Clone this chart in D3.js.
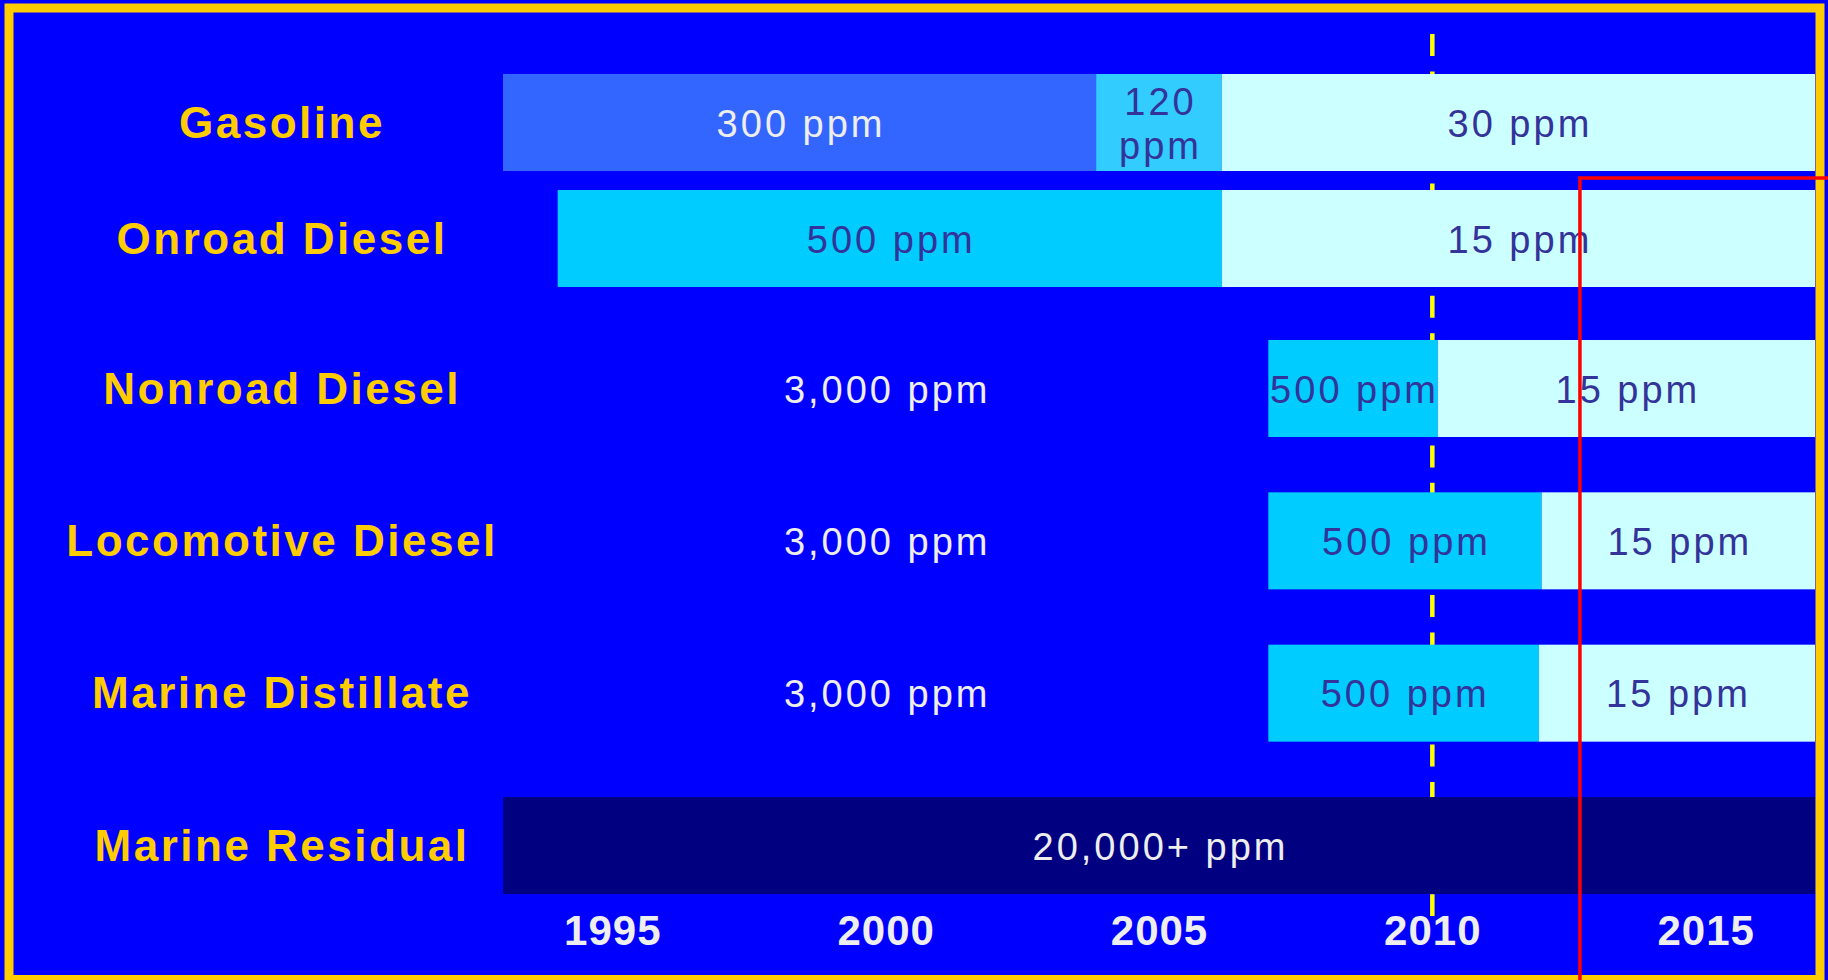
<!DOCTYPE html>
<html>
<head>
<meta charset="utf-8">
<script src="https://cdn.jsdelivr.net/npm/d3@7"></script>
<style>
  html, body { margin: 0; padding: 0; background: #0000FF; overflow: hidden; }
  svg { display: block; }
  text { font-family: "Liberation Sans", Arial, sans-serif; }
</style>
</head>
<body>
<svg id="chart" width="1828" height="980"></svg>
<script>
// Fuel categories, top to bottom
const categories = ["Gasoline", "Onroad Diesel", "Nonroad Diesel", "Locomotive Diesel", "Marine Distillate", "Marine Residual"];

// Year axis
const yearDomain = [1993, 2017];
const yearTicks = [1995, 2000, 2005, 2010, 2015];
const milestoneYear = 2010;

// Sulfur limit periods per fuel: [from year, to year, limit]
const gasolineLimits = [[1993, 2003.85, "300 ppm"], [2003.85, 2006.15, "120 ppm"], [2006.15, 2017, "30 ppm"]];
const onroadDieselLimits = [[1994, 2006.15, "500 ppm"], [2006.15, 2017, "15 ppm"]];
const nonroadDieselLimits = [[1993, 2007, "3,000 ppm"], [2007, 2010.1, "500 ppm"], [2010.1, 2017, "15 ppm"]];
const locomotiveDieselLimits = [[1993, 2007, "3,000 ppm"], [2007, 2012, "500 ppm"], [2012, 2017, "15 ppm"]];
const marineDistillateLimits = [[1993, 2007, "3,000 ppm"], [2007, 2011.95, "500 ppm"], [2011.95, 2017, "15 ppm"]];
const marineResidualLimits = [[1993, 2017, "20,000+ ppm"]];

// Limit levels and their colours
const limitLevels = ["20,000+ ppm", "3,000 ppm", "500 ppm", "300 ppm", "120 ppm", "30 ppm", "15 ppm"];
const levelFill = ["#000080", "#0000FF", "#00CCFF", "#3366FF", "#33CCFF", "#CCFFFF", "#CCFFFF"];
const levelInk = ["#EEEEEE", "#EEEEEE", "#333399", "#EEEEEE", "#333399", "#333399", "#333399"];

const limitsByFuel = [gasolineLimits, onroadDieselLimits, nonroadDieselLimits,
                      locomotiveDieselLimits, marineDistillateLimits, marineResidualLimits];

const W = 1828, H = 980;
const svg = d3.select("#chart");

const x = d3.scaleLinear().domain(yearDomain).range([503, 1815]);
// Row centres: the two on-road fuels sit closer together than the rest
const rowIndex = d3.scaleOrdinal().domain(categories).range(d3.range(categories.length));
const rowY = d3.scaleLinear().domain([0, 1, 2, 5]).range([122.5, 238.5, 388.5, 845.5]);
const y = c => rowY(rowIndex(c));
const barH = 97;

const fillOf = d3.scaleOrdinal().domain(limitLevels).range(levelFill);
const inkOf = d3.scaleOrdinal().domain(limitLevels).range(levelInk);

const segments = categories.flatMap((c, i) =>
  limitsByFuel[i].map(([from, to, level]) => ({ fuel: c, from, to, level })));

// 2010 milestone (dashed), drawn behind the bars
svg.append("line")
  .attr("x1", x(milestoneYear)).attr("x2", x(milestoneYear))
  .attr("y1", 34).attr("y2", 916)
  .attr("stroke", "#FFFF00")
  .attr("stroke-width", 4.5)
  .attr("stroke-dasharray", "22,15.4");

// Bars
svg.append("g").selectAll("rect")
  .data(segments)
  .join("rect")
  .attr("x", d => x(d.from))
  .attr("y", d => y(d.fuel) - barH / 2)
  .attr("width", d => x(d.to) - x(d.from))
  .attr("height", barH)
  .attr("fill", d => fillOf(d.level));

// Limit labels, wrapped onto two lines when the period is too narrow
const labelSize = 38;
const labels = svg.append("g").selectAll("text")
  .data(segments)
  .join("text")
  .attr("text-anchor", "middle")
  .attr("font-size", labelSize)
  .style("letter-spacing", "3px")
  .attr("fill", d => inkOf(d.level))
  .attr("x", d => (x(d.from) + x(d.to)) / 2 + 1.5)
  .attr("y", d => y(d.fuel) + 14)
  .text(d => d.level);

labels.each(function(d) {
  const t = d3.select(this);
  const w = this.getComputedTextLength();
  const avail = x(d.to) - x(d.from);
  if (w > avail * 1.15) {
    const words = d.level.split(" ");
    t.text(null);
    words.forEach((wd, k) => {
      t.append("tspan")
        .attr("x", (x(d.from) + x(d.to)) / 2 + 1.5)
        .attr("y", y(d.fuel) + 14 + (k - (words.length - 1) / 2) * 44)
        .text(wd);
    });
  }
});

// Fuel names
svg.append("g").selectAll("text")
  .data(categories)
  .join("text")
  .attr("x", 282)
  .attr("y", d => y(d) + 15)
  .attr("text-anchor", "middle")
  .attr("font-size", 44)
  .attr("font-weight", "bold")
  .style("letter-spacing", "2.5px")
  .attr("fill", "#FFCC00")
  .text(d => d);

// Year axis
const axis = svg.append("g")
  .attr("transform", "translate(0,945)")
  .call(d3.axisBottom(x).tickValues(yearTicks).tickFormat(d3.format("d")).tickSize(0).tickPadding(0));
axis.select(".domain").remove();
axis.selectAll("text")
  .attr("dy", 0)
  .attr("y", 0)
  .attr("font-size", 42)
  .attr("font-weight", "bold")
  .attr("font-family", "'Liberation Sans', Arial, sans-serif")
  .style("letter-spacing", "1px")
  .attr("fill", "#EEEEEE");

// Frame
svg.append("rect")
  .attr("x", 9).attr("y", 8)
  .attr("width", 1811).attr("height", 971.5)
  .attr("fill", "none")
  .attr("stroke", "#FFCC00")
  .attr("stroke-width", 9);

// Red highlight box over the later years
const highlightFrom = 2012.7;
svg.append("rect")
  .attr("x", x(highlightFrom))
  .attr("y", y("Onroad Diesel") - barH / 2 - 12)
  .attr("width", W)
  .attr("height", H)
  .attr("fill", "none")
  .attr("stroke", "#FF0000")
  .attr("stroke-width", 3.5);
</script>
</body>
</html>
